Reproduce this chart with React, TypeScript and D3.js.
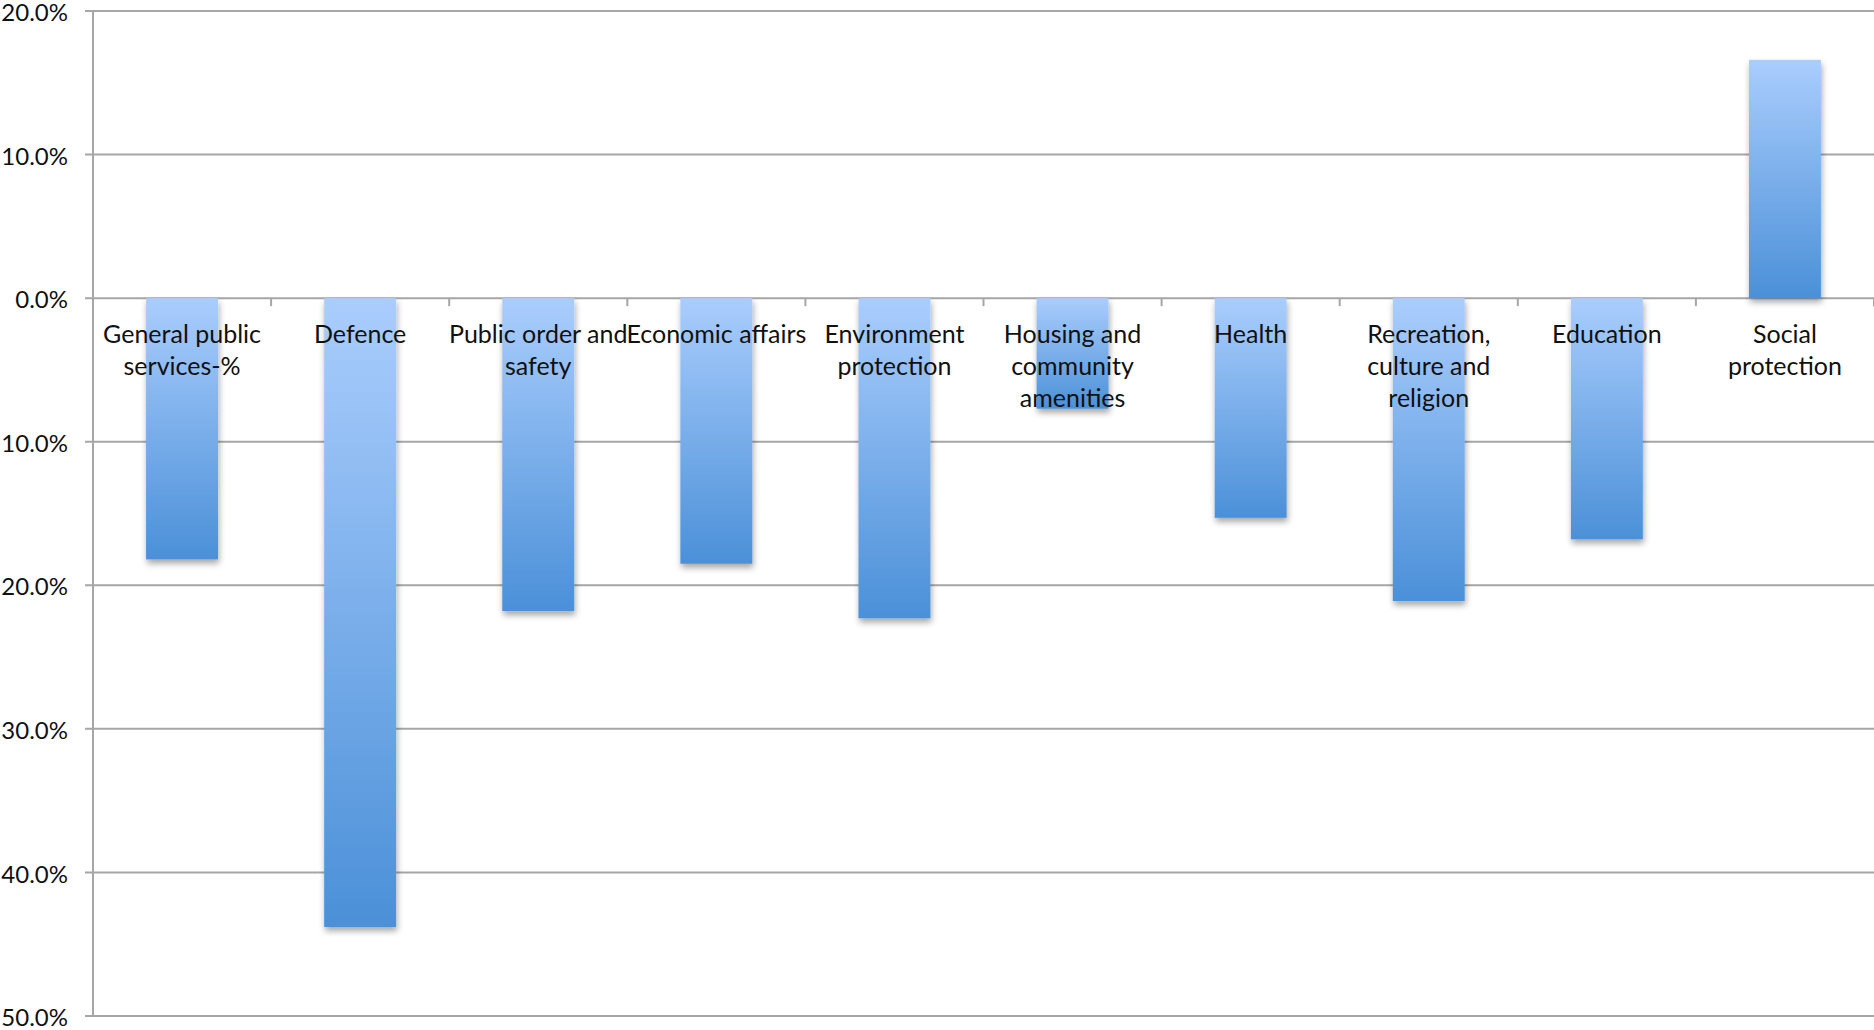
import React, { useEffect } from "react";
import * as d3 from "d3";

const categories = [
  ["General public", "services-%"],
  ["Defence"],
  ["Public order and", "safety"],
  ["Economic affairs"],
  ["Environment", "protection"],
  ["Housing and", "community", "amenities"],
  ["Health"],
  ["Recreation,", "culture and", "religion"],
  ["Education"],
  ["Social", "protection"],
];
const categoryKeys = [
  "General public services-%",
  "Defence",
  "Public order and safety",
  "Economic affairs",
  "Environment protection",
  "Housing and community amenities",
  "Health",
  "Recreation, culture and religion",
  "Education",
  "Social protection",
];
const values = [-0.182, -0.438, -0.218, -0.185, -0.223, -0.077, -0.153, -0.211, -0.168, 0.166];
const yTicks = [0.2, 0.1, 0, -0.1, -0.2, -0.3, -0.4, -0.5];

const W = 1874;
const H = 1030;
const left = 93;
const right = 1874;
const top = 11;
const bottom = 1016;

export default function App() {
  useEffect(() => {
    document.body.style.margin = "0";
  }, []);

  const x = d3
    .scaleBand<string>()
    .domain(categoryKeys)
    .range([left, right])
    .paddingInner(0.596)
    .paddingOuter(0.298);
  const y = d3.scaleLinear().domain([-0.5, 0.2]).range([bottom, top]);
  const step = x.step();
  const fmt = d3.format(".1%");
  const font = "Lato, 'Open Sans', sans-serif";

  return (
    <svg width={W} height={H} style={{ display: "block", background: "#fff" }}>
      <defs>
        <linearGradient id="barGrad" x1="0" y1="0" x2="0" y2="1">
          <stop offset="0%" stopColor="#aacdfd" />
          <stop offset="100%" stopColor="#4b90d8" />
        </linearGradient>
        <filter id="shadow" x="-30%" y="-10%" width="160%" height="130%">
          <feDropShadow dx="1" dy="4" stdDeviation="3" floodColor="#000" floodOpacity="0.35" />
        </filter>
      </defs>

      {/* gridlines */}
      {yTicks.map((t) => (
        <g key={t}>
          <line x1={left - 8} x2={right} y1={y(t)} y2={y(t)} stroke="#a6a6a6" strokeWidth={2} />
          <text
            x={68}
            y={y(t) + 4}
            textAnchor="end"
            dominantBaseline="middle"
            fontFamily={font}
            fontSize={24}
            fill="#111"
          >
            {fmt(t)}
          </text>
        </g>
      ))}

      {/* bars */}
      {values.map((v, i) => {
        const k = categoryKeys[i];
        const y0 = y(Math.max(0, v));
        const y1 = y(Math.min(0, v));
        return (
          <rect
            key={k}
            x={x(k)}
            y={y0}
            width={x.bandwidth()}
            height={y1 - y0}
            fill="url(#barGrad)"
            filter="url(#shadow)"
          />
        );
      })}

      {/* y axis */}
      <line x1={left} x2={left} y1={top} y2={bottom} stroke="#a6a6a6" strokeWidth={2} />
      {/* zero axis ticks */}
      {d3.range(categoryKeys.length + 1).map((i) => (
        <line
          key={i}
          x1={left + i * step}
          x2={left + i * step}
          y1={y(0)}
          y2={y(0) + 8}
          stroke="#a6a6a6"
          strokeWidth={2}
        />
      ))}

      {/* category labels */}
      {categories.map((lines, i) => {
        const cx = (x(categoryKeys[i]) as number) + x.bandwidth() / 2;
        return (
          <text key={i} textAnchor="middle" fontFamily={font} fontSize={25} fill="#111">
            {lines.map((ln, j) => (
              <tspan key={j} x={cx} y={343 + j * 32}>
                {ln}
              </tspan>
            ))}
          </text>
        );
      })}
    </svg>
  );
}
